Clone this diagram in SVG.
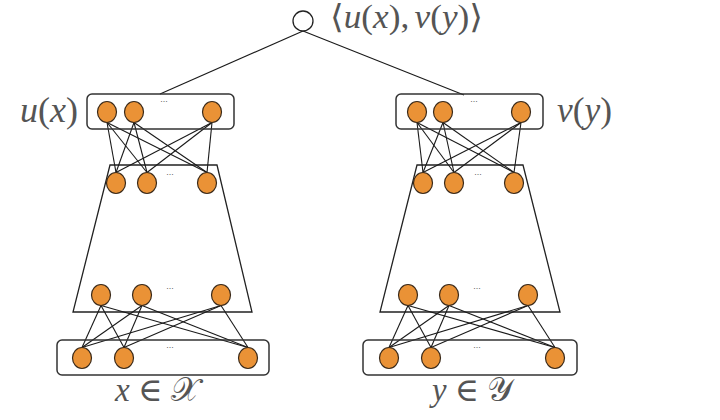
<svg xmlns="http://www.w3.org/2000/svg" width="720" height="420" viewBox="0 0 720 420">
<style>
.bg{fill:#ffffff}
.box{fill:none;stroke:#333333;stroke-width:1.5}
.trap{fill:none;stroke:#222222;stroke-width:1.3}
.n{fill:#ea9236;stroke:#3a2a1a;stroke-width:1.2}
.root{fill:#ffffff;stroke:#222222;stroke-width:1.3}
.c{stroke:#1a1a1a;stroke-width:1.1;fill:none}
.dots{font-family:"Liberation Sans","DejaVu Sans",sans-serif;font-size:9px;fill:#666666;text-anchor:middle}
.m{font-family:"Liberation Serif","DejaVu Serif",serif;fill:#555555;font-weight:normal}
.i{font-style:italic}
</style>
<rect class="bg" x="0" y="0" width="720" height="420"/>

<g id="left-encoder-frame">
<polygon class="trap" points="110,165 217,165 252,312 73,312"/>
</g>
<g id="right-encoder-frame">
<polygon class="trap" points="417,165 523,165 560,312 380,312"/>
</g>

<g id="connectors">
<line class="c" x1="303" y1="31" x2="160" y2="94"/>
<line class="c" x1="303" y1="31" x2="464" y2="95"/>
<line class="c" x1="107" y1="122.5" x2="116" y2="172.5"/>
<line class="c" x1="107" y1="122.5" x2="147" y2="172.5"/>
<line class="c" x1="107" y1="122.5" x2="207" y2="172.5"/>
<line class="c" x1="134" y1="122.5" x2="116" y2="172.5"/>
<line class="c" x1="134" y1="122.5" x2="147" y2="172.5"/>
<line class="c" x1="134" y1="122.5" x2="207" y2="172.5"/>
<line class="c" x1="212" y1="122.5" x2="116" y2="172.5"/>
<line class="c" x1="212" y1="122.5" x2="147" y2="172.5"/>
<line class="c" x1="212" y1="122.5" x2="207" y2="172.5"/>
<line class="c" x1="101" y1="305.5" x2="82" y2="347.5"/>
<line class="c" x1="101" y1="305.5" x2="124" y2="347.5"/>
<line class="c" x1="101" y1="305.5" x2="248" y2="347.5"/>
<line class="c" x1="142" y1="305.5" x2="82" y2="347.5"/>
<line class="c" x1="142" y1="305.5" x2="124" y2="347.5"/>
<line class="c" x1="142" y1="305.5" x2="248" y2="347.5"/>
<line class="c" x1="221" y1="305.5" x2="82" y2="347.5"/>
<line class="c" x1="221" y1="305.5" x2="124" y2="347.5"/>
<line class="c" x1="221" y1="305.5" x2="248" y2="347.5"/>
<line class="c" x1="417" y1="122.5" x2="423" y2="172.5"/>
<line class="c" x1="417" y1="122.5" x2="454" y2="172.5"/>
<line class="c" x1="417" y1="122.5" x2="514" y2="172.5"/>
<line class="c" x1="443" y1="122.5" x2="423" y2="172.5"/>
<line class="c" x1="443" y1="122.5" x2="454" y2="172.5"/>
<line class="c" x1="443" y1="122.5" x2="514" y2="172.5"/>
<line class="c" x1="521" y1="122.5" x2="423" y2="172.5"/>
<line class="c" x1="521" y1="122.5" x2="454" y2="172.5"/>
<line class="c" x1="521" y1="122.5" x2="514" y2="172.5"/>
<line class="c" x1="408" y1="305.5" x2="389" y2="347.5"/>
<line class="c" x1="408" y1="305.5" x2="431" y2="347.5"/>
<line class="c" x1="408" y1="305.5" x2="555" y2="347.5"/>
<line class="c" x1="449" y1="305.5" x2="389" y2="347.5"/>
<line class="c" x1="449" y1="305.5" x2="431" y2="347.5"/>
<line class="c" x1="449" y1="305.5" x2="555" y2="347.5"/>
<line class="c" x1="528" y1="305.5" x2="389" y2="347.5"/>
<line class="c" x1="528" y1="305.5" x2="431" y2="347.5"/>
<line class="c" x1="528" y1="305.5" x2="555" y2="347.5"/>
</g>

<g id="root">
<circle class="root" cx="303" cy="21" r="10"/>
<text class="m" x="330" y="28" font-size="33" textLength="153" lengthAdjust="spacingAndGlyphs">⟨<tspan class="i">u</tspan>(<tspan class="i">x</tspan>),<tspan class="i" dx="5">v</tspan>(<tspan class="i">y</tspan>)⟩</text>
</g>

<g id="left-embedding">
<rect class="box" x="87" y="94" width="147" height="35" rx="5"/>
<ellipse class="n" cx="107" cy="112" rx="9.5" ry="10.5"/>
<ellipse class="n" cx="134" cy="112" rx="9.5" ry="10.5"/>
<ellipse class="n" cx="212" cy="112" rx="9.5" ry="10.5"/>
<text class="dots" x="164" y="102">...</text>
<text class="m" x="20" y="122" font-size="35" textLength="58" lengthAdjust="spacingAndGlyphs"><tspan class="i">u</tspan>(<tspan class="i">x</tspan>)</text>
</g>

<g id="left-hidden-top">
<ellipse class="n" cx="116" cy="183" rx="9.5" ry="10.5"/>
<ellipse class="n" cx="147" cy="183" rx="9.5" ry="10.5"/>
<ellipse class="n" cx="207" cy="183" rx="9.5" ry="10.5"/>
<text class="dots" x="170" y="175">...</text>
</g>

<g id="left-hidden-bottom">
<ellipse class="n" cx="101" cy="295" rx="9.5" ry="10.5"/>
<ellipse class="n" cx="142" cy="295" rx="9.5" ry="10.5"/>
<ellipse class="n" cx="221" cy="295" rx="9.5" ry="10.5"/>
<text class="dots" x="170" y="289">...</text>
</g>

<g id="left-input">
<rect class="box" x="57" y="340" width="212" height="35" rx="5"/>
<ellipse class="n" cx="82" cy="358" rx="9.5" ry="10.5"/>
<ellipse class="n" cx="124" cy="358" rx="9.5" ry="10.5"/>
<ellipse class="n" cx="248" cy="358" rx="9.5" ry="10.5"/>
<text class="dots" x="170" y="348">...</text>
<text class="m" x="115" y="401" font-size="33" textLength="84" lengthAdjust="spacingAndGlyphs"><tspan class="i">x</tspan> ∈ 𝒳</text>
</g>

<g id="right-embedding">
<rect class="box" x="396" y="94" width="147" height="35" rx="5"/>
<ellipse class="n" cx="417" cy="112" rx="9.5" ry="10.5"/>
<ellipse class="n" cx="443" cy="112" rx="9.5" ry="10.5"/>
<ellipse class="n" cx="521" cy="112" rx="9.5" ry="10.5"/>
<text class="dots" x="474" y="102">...</text>
<text class="m" x="557" y="122" font-size="35" textLength="55" lengthAdjust="spacingAndGlyphs"><tspan class="i">v</tspan>(<tspan class="i">y</tspan>)</text>
</g>

<g id="right-hidden-top">
<ellipse class="n" cx="423" cy="183" rx="9.5" ry="10.5"/>
<ellipse class="n" cx="454" cy="183" rx="9.5" ry="10.5"/>
<ellipse class="n" cx="514" cy="183" rx="9.5" ry="10.5"/>
<text class="dots" x="478" y="175">...</text>
</g>

<g id="right-hidden-bottom">
<ellipse class="n" cx="408" cy="295" rx="9.5" ry="10.5"/>
<ellipse class="n" cx="449" cy="295" rx="9.5" ry="10.5"/>
<ellipse class="n" cx="528" cy="295" rx="9.5" ry="10.5"/>
<text class="dots" x="477" y="289">...</text>
</g>

<g id="right-input">
<rect class="box" x="363" y="340" width="214" height="35" rx="5"/>
<ellipse class="n" cx="389" cy="358" rx="9.5" ry="10.5"/>
<ellipse class="n" cx="431" cy="358" rx="9.5" ry="10.5"/>
<ellipse class="n" cx="555" cy="358" rx="9.5" ry="10.5"/>
<text class="dots" x="477" y="348">...</text>
<text class="m" x="432" y="401" font-size="33" textLength="81" lengthAdjust="spacingAndGlyphs"><tspan class="i">y</tspan> ∈ 𝒴</text>
</g>
</svg>
